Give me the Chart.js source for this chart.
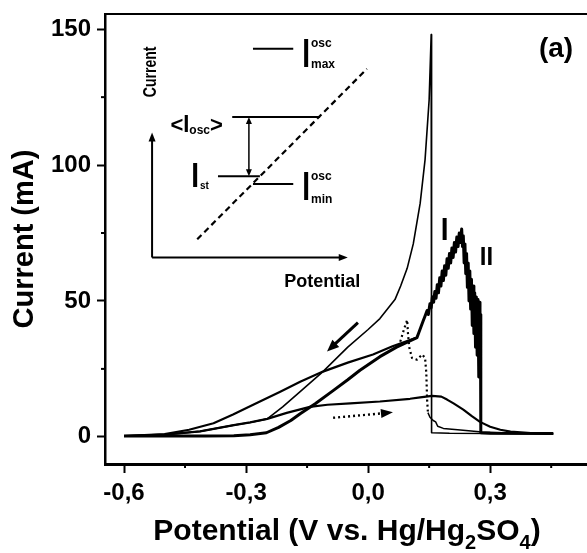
<!DOCTYPE html>
<html><head><meta charset="utf-8">
<script src="https://cdn.jsdelivr.net/npm/chart.js@4.4.1/dist/chart.umd.min.js"></script>
<style>html,body{margin:0;padding:0;background:#fff;overflow:hidden}canvas{display:block}</style>
</head><body>
<canvas id="c" width="587" height="553"></canvas>
<script>
// ---------- values ----------
const xMajorTicks = [-0.6, -0.3, 0.0, 0.3];
const xMajorLabels = ['-0,6', '-0,3', '0,0', '0,3'];
const xAllTicks = [-0.6, -0.45, -0.3, -0.15, 0.0, 0.15, 0.3, 0.45];
const yMajorTicks = [0, 50, 100, 150];
const yMajorLabels = ['0', '50', '100', '150'];
const yAllTicks = [0, 25, 50, 75, 100, 125, 150];

// thin scan: rise to the 148 mA spike, then sudden drop
const thinX = [-0.60,-0.50,-0.413,-0.33,-0.29,-0.248,-0.21,-0.167,-0.111,-0.05,0.00,0.029,0.066,0.08,0.096,0.111,0.128,0.14,0.15,0.155,0.156,0.20,0.30,0.455];
const thinY = [0.3,0.8,2.0,4.3,5.3,6.6,11.0,16.6,24.0,33.0,39.5,43.5,50.5,55.5,62.0,71.0,86.0,102.0,124.0,148.0,1.5,1.3,1.2,1.1];

// thick scan: rise, kink, oscillating branch (I, II), drop
const thickX = [-0.60,-0.50,-0.40,-0.33,-0.29,-0.25,-0.22,-0.19,-0.167,-0.13,-0.086,-0.05,-0.02,0.029,0.07,0.12,0.125,0.130,0.135,0.140,0.145,0.148,0.152,0.155,0.158,0.161,0.164,0.167,0.170,0.173,0.176,0.179,0.182,0.185,0.188,0.191,0.194,0.197,0.200,0.203,0.206,0.209,0.212,0.215,0.218,0.221,0.224,0.227,0.230,0.232,0.234,0.236,0.238,0.240,0.242,0.244,0.246,0.248,0.250,0.252,0.254,0.256,0.258,0.260,0.262,0.264,0.266,0.268,0.270,0.272,0.274,0.275,0.276,0.277,0.277,0.277,0.277,0.30,0.455];
const thickY = [0.3,0.3,0.3,0.4,0.8,1.5,3.5,6.0,8.5,12.2,17.0,21.0,24.5,29.5,33.0,36.5,38.5,40.5,42.5,44.5,46.5,45.0,49.0,47.5,51.5,49.5,53.5,51.0,56.0,53.0,58.5,55.5,61.0,57.5,63.0,59.5,65.5,62.0,67.5,64.0,69.5,66.0,71.5,68.0,73.5,70.0,75.0,71.5,76.5,70.0,74.0,64.0,71.0,60.0,67.5,55.0,64.0,50.0,61.0,47.0,58.0,41.0,55.5,38.0,53.0,33.0,51.5,30.0,50.5,22.0,49.5,26.0,45.0,20.0,35.0,12.0,1.5,1.3,1.2];

// second (upper) solid branch on the left
const branchX = [-0.60,-0.50,-0.44,-0.38,-0.332,-0.28,-0.216,-0.167,-0.111,-0.05,0.012,0.06,0.12];
const branchY = [0.3,1.0,2.6,5.0,8.2,12.0,16.6,20.3,24.0,27.3,30.3,33.3,36.5];

// low broad hump (dotted arrow scan)
const humpX = [-0.60,-0.50,-0.413,-0.33,-0.29,-0.248,-0.20,-0.143,-0.10,-0.044,0.029,0.103,0.128,0.157,0.18,0.194,0.21,0.234,0.255,0.275,0.30,0.325,0.35,0.40,0.455];
const humpY = [0.3,0.8,2.0,4.3,5.3,6.6,8.8,11.0,11.8,12.3,13.0,14.0,14.5,15.1,14.8,13.7,12.3,10.0,7.6,5.5,3.7,2.6,1.9,1.4,1.2];

// dotted wiggle and its thin tail
const dotX = [0.079,0.088,0.096,0.098,0.101,0.108,0.120,0.133,0.140,0.143,0.145,0.147];
const dotY = [35.0,39.5,43.0,38.0,33.0,29.0,28.4,30.3,29.0,23.6,13.7,8.9];
const tailX = [0.147,0.152,0.160,0.166,0.171,0.185,0.22,0.28,0.35,0.455];
const tailY = [8.9,7.2,6.0,5.5,3.9,3.1,2.6,1.8,1.4,1.2];

// inset schematic (in data units)
const insetDashX = [-0.42, -0.003];
const insetDashY = [72.7, 135.4];
const levelOscX = [-0.334, -0.118], levelOscY = [117.7, 117.7];
const levelStX  = [-0.369, -0.266], levelStY  = [95.9, 95.9];
const levelMinX = [-0.283, -0.184], levelMinY = [93.0, 93.0];
const levelMaxX = [-0.283, -0.184], levelMaxY = [142.8, 142.8];

// arrows: [x1, y1, x2, y2]
const arrowScanBack = [-0.025, 42.0, -0.101, 31.4];
const arrowScanFwd  = [-0.086, 7.0, 0.061, 9.0];
const arrowInsetV   = [-0.531, 66.0, -0.531, 112.0];
const arrowInsetH   = [-0.531, 66.0, -0.050, 66.0];
const arrowInsetD   = [-0.293, 117.7, -0.293, 95.9];

// ---------- drawing ----------
const FONT = "'Liberation Sans', Arial, Helvetica, sans-serif";
const pts = (xs, ys) => xs.map((x, i) => ({x: x, y: ys[i]}));
const line = (xs, ys, w, extra) => Object.assign({
  data: pts(xs, ys), showLine: true, pointRadius: 0, borderColor: '#000', backgroundColor: '#000',
  borderWidth: w, tension: 0, fill: false, borderJoinStyle: 'round', borderCapStyle: 'butt'
}, extra || {});

const isMajorX = v => xMajorTicks.some(t => Math.abs(t - v) < 1e-6);
const isMajorY = v => yMajorTicks.some(t => Math.abs(t - v) < 1e-6);

function drawArrow(chart, a, opt) {
  const ctx = chart.ctx, sx = chart.scales.x, sy = chart.scales.y;
  const x1 = sx.getPixelForValue(a[0]), y1 = sy.getPixelForValue(a[1]);
  const x2 = sx.getPixelForValue(a[2]), y2 = sy.getPixelForValue(a[3]);
  const L = Math.hypot(x2 - x1, y2 - y1), ux = (x2 - x1) / L, uy = (y2 - y1) / L;
  const h = opt.head, hw = opt.hw;
  const sxp = opt.both ? x1 + ux * h : x1, syp = opt.both ? y1 + uy * h : y1;
  ctx.save();
  ctx.strokeStyle = '#000'; ctx.fillStyle = '#000'; ctx.lineWidth = opt.w;
  if (opt.dash) ctx.setLineDash(opt.dash);
  ctx.beginPath(); ctx.moveTo(sxp, syp); ctx.lineTo(x2 - ux * h * 0.8, y2 - uy * h * 0.8); ctx.stroke();
  ctx.setLineDash([]);
  const head = (tx, ty, dx, dy) => {
    ctx.beginPath(); ctx.moveTo(tx, ty);
    ctx.lineTo(tx - dx * h - dy * hw, ty - dy * h + dx * hw);
    ctx.lineTo(tx - dx * h + dy * hw, ty - dy * h - dx * hw);
    ctx.closePath(); ctx.fill();
  };
  head(x2, y2, ux, uy);
  if (opt.both) head(x1, y1, -ux, -uy);
  ctx.restore();
}

function drawRich(ctx, x, y, parts, align) {
  const widths = parts.map(p => { ctx.font = 'bold ' + p.s + 'px ' + FONT; return p.noAdvance ? 0 : ctx.measureText(p.t).width + (p.gap || 0); });
  const total = widths.reduce((a, b) => a + b, 0);
  let cx = align === 'right' ? x - total : (align === 'center' ? x - total / 2 : x);
  parts.forEach((p, i) => {
    ctx.save();
    ctx.font = 'bold ' + p.s + 'px ' + FONT;
    ctx.fillStyle = '#000'; ctx.textBaseline = 'alphabetic'; ctx.textAlign = 'left';
    ctx.translate(cx, y + (p.dy || 0)); ctx.scale(1, p.sy || 1);
    ctx.fillText(p.t, 0, 0);
    ctx.restore();
    cx += widths[i];
  });
}

const richLabels = [
  {x: 0.462, y: 139.8, align: 'center', parts: [{t: '(a)', s: 28}]},
  {x: 0.188, y: 72.5, align: 'center', parts: [{t: 'I', s: 28, sy: 1.1}]},
  {x: 0.291, y: 63.3, align: 'center', parts: [{t: 'II', s: 24, sy: 1.05}]},
  {x: -0.357, y: 112.2, align: 'right', parts: [{t: '<', s: 22}, {t: 'I', s: 22, sy: 1.05}, {t: 'osc', s: 12, dy: 2}, {t: '>', s: 22}]},
  {x: -0.435, y: 92.0, align: 'left', parts: [{t: 'I', s: 28, sy: 1.25, gap: 1}, {t: 'st', s: 10, dy: 2}]},
  {x: -0.162, y: 136.1, align: 'left', parts: [{t: 'I', s: 28, sy: 1.45, gap: 1}, {t: 'osc', s: 12, dy: -20, noAdvance: true}, {t: 'max', s: 12, dy: 1}]},
  {x: -0.162, y: 87.2, align: 'left', parts: [{t: 'I', s: 28, sy: 1.45, gap: 1}, {t: 'osc', s: 12, dy: -20, noAdvance: true}, {t: 'min', s: 12, dy: 3}]},
  {x: -0.113, y: 55.2, align: 'center', parts: [{t: 'Potential', s: 18}]}
];

const annotate = {
  id: 'annotate',
  afterDatasetsDraw(chart) {
    const ctx = chart.ctx, sx = chart.scales.x, sy = chart.scales.y, ca = chart.chartArea;
    // minor tick marks
    ctx.save(); ctx.strokeStyle = '#000'; ctx.lineWidth = 2;
    xAllTicks.filter(v => !isMajorX(v)).forEach(v => {
      const p = sx.getPixelForValue(v); ctx.beginPath(); ctx.moveTo(p, ca.bottom); ctx.lineTo(p, ca.bottom + 4); ctx.stroke();
    });
    yAllTicks.filter(v => !isMajorY(v)).forEach(v => {
      const p = sy.getPixelForValue(v); ctx.beginPath(); ctx.moveTo(ca.left, p); ctx.lineTo(ca.left - 4, p); ctx.stroke();
    });
    ctx.restore();
    // arrows
    drawArrow(chart, arrowScanBack, {w: 3, head: 12, hw: 5});
    drawArrow(chart, arrowScanFwd, {w: 2.4, head: 12, hw: 4.5, dash: [2, 3]});
    drawArrow(chart, arrowInsetV, {w: 2, head: 9, hw: 3.5});
    drawArrow(chart, arrowInsetH, {w: 2, head: 9, hw: 3.5});
    drawArrow(chart, arrowInsetD, {w: 1.5, head: 7, hw: 3, both: true});
    // labels
    richLabels.forEach(l => drawRich(ctx, sx.getPixelForValue(l.x), sy.getPixelForValue(l.y), l.parts, l.align));
    // rotated inset label
    ctx.save();
    ctx.font = 'bold 18px ' + FONT; ctx.fillStyle = '#000';
    ctx.translate(sx.getPixelForValue(-0.522), sy.getPixelForValue(134.3));
    ctx.rotate(-Math.PI / 2); ctx.scale(0.78, 1); ctx.textAlign = 'center'; ctx.textBaseline = 'alphabetic';
    ctx.fillText('Current', 0, 0);
    ctx.restore();
    // x axis title with subscripts
    const parts = [{t: 'Potential (V vs. Hg/Hg', s: 30}, {t: '2', s: 20, dy: 9}, {t: 'SO', s: 30}, {t: '4', s: 20, dy: 9}, {t: ')', s: 30}];
    drawRich(ctx, 347, 540, parts, 'center');
  }
};

const tickFont = {family: FONT, size: 24, weight: 'bold'};

new Chart(document.getElementById('c'), {
  type: 'scatter',
  data: {
    datasets: [
      line(humpX, humpY, 2.2),
      line(branchX, branchY, 2.2),
      line(thinX, thinY, 1.6),
      line(thickX, thickY, 3),
      line(dotX, dotY, 2.2, {borderDash: [2, 3]}),
      line(tailX, tailY, 1.5),
      line(insetDashX, insetDashY, 2.2, {borderDash: [6, 4]}),
      line(levelOscX, levelOscY, 2),
      line(levelStX, levelStY, 2),
      line(levelMinX, levelMinY, 2),
      line(levelMaxX, levelMaxY, 2)
    ]
  },
  options: {
    responsive: false, animation: false, devicePixelRatio: 1,
    layout: {padding: {top: 14, right: 0, bottom: 0, left: 0}},
    plugins: {legend: {display: false}, tooltip: {enabled: false}},
    scales: {
      x: {
        type: 'linear', position: 'bottom', min: -0.6467, max: 0.538,
        afterFit: s => { s.height = 89; s.paddingLeft = 0; s.paddingRight = 0; },
        afterBuildTicks: s => { s.ticks = xAllTicks.map(v => ({value: v})); },
        ticks: {
          font: tickFont, color: '#000', padding: 6, maxRotation: 0, autoSkip: false, includeBounds: false,
          callback: v => { const i = xMajorTicks.findIndex(t => Math.abs(t - v) < 1e-6); return i >= 0 ? xMajorLabels[i] : ''; }
        },
        grid: {drawOnChartArea: false, drawTicks: true, tickLength: 9, tickWidth: 2,
               tickColor: c => (c.tick && isMajorX(c.tick.value)) ? '#000' : 'rgba(0,0,0,0)'},
        border: {display: true, color: '#000', width: 3}
      },
      x2: {
        type: 'linear', axis: 'x', position: 'top', min: -0.6467, max: 0.538,
        afterFit: s => { s.height = 0; s.paddingLeft = 0; s.paddingRight = 0; },
        ticks: {display: false},
        grid: {drawOnChartArea: false, drawTicks: false},
        border: {display: true, color: '#000', width: 2}
      },
      y: {
        type: 'linear', position: 'left', min: -10, max: 155.6,
        afterFit: s => { s.width = 105; s.paddingTop = 0; s.paddingBottom = 0; },
        afterBuildTicks: s => { s.ticks = yAllTicks.map(v => ({value: v})); },
        ticks: {
          font: tickFont, color: '#000', padding: 6, includeBounds: false,
          callback: v => { const i = yMajorTicks.findIndex(t => Math.abs(t - v) < 1e-6); return i >= 0 ? yMajorLabels[i] : ''; }
        },
        grid: {drawOnChartArea: false, drawTicks: true, tickLength: 8, tickWidth: 2,
               tickColor: c => (c.tick && isMajorY(c.tick.value)) ? '#000' : 'rgba(0,0,0,0)'},
        border: {display: true, color: '#000', width: 2.5},
        title: {display: true, text: 'Current (mA)', color: '#000', font: {family: FONT, size: 29, weight: 'bold'}, padding: {top: 8, bottom: 0}}
      }
    }
  },
  plugins: [annotate]
});
</script>
</body></html>
